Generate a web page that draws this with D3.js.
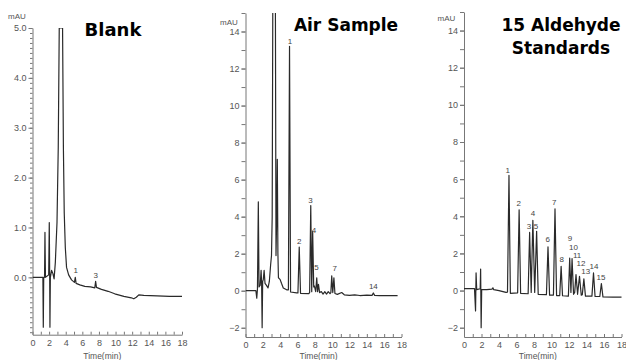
<!DOCTYPE html>
<html>
<head>
<meta charset="utf-8">
<script src="https://cdn.jsdelivr.net/npm/d3@7"></script>
<style>
  body { margin: 0; background: #fff; }
  svg { display: block; }
  .tick text { font-family: "Liberation Sans", Arial, sans-serif; font-size: 9px; fill: #555; }
  .axis path, .axis line { stroke: #777; }
</style>
</head>
<body>
<svg id="chart" width="626" height="360"></svg>
<script>
// ---- data (time in min, signal in mAU) ----
var blankTime = [0, 1.25, 1.3, 1.35, 1.45, 1.5, 1.56, 1.95, 2.02, 2.07, 2.1, 2.15, 2.3, 2.45, 2.6, 2.75, 2.95, 3.1, 3.22, 3.62, 3.72, 3.82, 3.95, 4.1, 4.35, 4.7, 5.05, 5.15, 5.25, 5.7, 6.3, 7.0, 7.5, 7.6, 7.7, 8.3, 9.1, 9.9, 11.0, 11.9, 12.2, 12.5, 12.8, 13.4, 15.0, 16.5, 18.0];
var blankSignal = [0, 0, -1.0, 0, 0, 0.9, 0, 0.05, 1.1, 0, -1.0, 0, 0.14, 0.08, -0.03, 0.3, 1.1, 2.6, 5.0, 5.0, 2.6, 1.3, 0.6, 0.2, 0.05, -0.05, -0.1, 0.0, -0.12, -0.15, -0.18, -0.19, -0.21, -0.08, -0.2, -0.24, -0.28, -0.33, -0.38, -0.41, -0.43, -0.4, -0.35, -0.36, -0.37, -0.38, -0.38];
var blankPeakNames = ["1", "3"];
var blankPeakTime = [5.2, 7.6];
var blankPeakLabelValue = [0.14, 0.04];

var airTime = [0, 1.2, 1.3, 1.38, 1.48, 1.56, 1.7, 1.8, 1.86, 1.92, 1.98, 2.05, 2.15, 2.25, 2.4, 2.6, 2.75, 2.9, 3.0, 3.08, 3.15, 3.45, 3.52, 3.6, 3.67, 3.74, 3.8, 3.9, 4.0, 4.15, 4.36, 4.75, 4.95, 5.08, 5.2, 5.9, 6.05, 6.2, 6.35, 7.3, 7.4, 7.53, 7.64, 7.75, 7.87, 7.95, 8.1, 8.22, 8.32, 8.42, 8.55, 8.75, 8.95, 9.15, 9.35, 9.55, 9.75, 9.85, 9.95, 10.07, 10.2, 10.32, 10.6, 11.1, 11.4, 12.0, 12.6, 13.2, 14.0, 14.6, 14.75, 14.9, 15.5, 16.5, 17.55];
var airSignal = [0, 0, -0.4, 0.1, 4.8, 0.2, 0.3, 1.1, 0.4, -2.0, 0.5, 0.6, 1.1, 0.4, 0.3, 0.15, 0.5, 1.4, 1.9, 4.0, 15.5, 15.5, 1.9, 4.0, 7.1, 2.0, 0.7, 0.65, 0.6, 0.4, 0.15, 0.05, 0.05, 13.2, -0.07, -0.12, -0.12, 2.36, -0.14, -0.16, -0.1, 4.6, -0.05, 3.2, 0.2, 0.25, -0.05, 0.7, -0.05, 0.35, -0.1, -0.05, -0.18, -0.05, -0.18, -0.05, -0.16, -0.1, 0.8, -0.1, 0.7, -0.15, -0.2, -0.1, -0.22, -0.25, -0.22, -0.26, -0.24, -0.25, -0.12, -0.25, -0.26, -0.27, -0.27];
var airPeakNames = ["1", "2", "3", "4", "5", "7", "14"];
var airPeakTime = [5.13, 6.2, 7.5, 7.9, 8.2, 10.3, 14.75];
var airPeakLabelValue = [13.5, 2.7, 4.88, 3.26, 1.27, 1.19, 0.23];

var stdTime = [0, 1.2, 1.32, 1.38, 1.45, 1.85, 1.9, 1.96, 2.02, 2.6, 3.2, 3.3, 3.4, 4.0, 4.8, 4.97, 5.14, 5.3, 6.13, 6.3, 6.47, 7.33, 7.5, 7.68, 7.87, 8.08, 8.3, 8.48, 9.42, 9.6, 9.78, 10.22, 10.4, 10.58, 10.94, 11.1, 11.26, 11.93, 12.08, 12.22, 12.35, 12.52, 12.65, 12.8, 12.98, 13.2, 13.4, 13.52, 13.7, 13.88, 14.62, 14.8, 14.98, 15.52, 15.7, 15.88, 17.0, 18.0];
var stdSignal = [0.1, 0.1, -1.1, 0.95, 0.05, 0.1, 1.16, -2.0, 0.05, 0.05, 0.08, 0.15, 0.05, 0.0, -0.1, -0.08, 6.2, -0.15, -0.12, 4.35, -0.15, -0.17, 3.13, -0.1, 3.78, -0.1, 3.19, -0.2, -0.22, 2.35, -0.25, -0.24, 4.4, -0.27, -0.27, 1.31, -0.28, -0.3, 1.75, -0.1, 1.72, -0.2, -0.1, 0.86, -0.2, 0.77, -0.25, -0.22, 0.63, -0.3, -0.3, 0.95, -0.32, -0.32, 0.38, -0.34, -0.35, -0.35];
var stdPeakNames = ["1", "2", "3", "4", "5", "6", "7", "8", "9", "10", "11", "12", "13", "14", "15"];
var stdPeakTime = [4.99, 6.25, 7.43, 7.89, 8.23, 9.57, 10.32, 11.17, 12.11, 12.52, 12.92, 13.36, 13.92, 14.86, 15.66];
var stdPeakLabelValue = [6.5, 4.73, 3.49, 4.14, 3.49, 2.74, 4.75, 1.67, 2.8, 2.36, 1.92, 1.47, 1.02, 1.31, 0.74];

var timeTicks = [0, 2, 4, 6, 8, 10, 12, 14, 16, 18];
var titles = [["Blank"], ["Air Sample"], ["15 Aldehyde", "Standards"]];

// ---- layout ----
var svg = d3.select("#chart");
var zip = (a, b) => a.map((d, i) => [d, b[i]]);

var panels = [
  { x0: 32.5, x1: 182, yTop: 28, yBot: 334.7, dom: [-1.15, 5], fmt: ".1f",
    minor: d3.range(-11, 51).map(i => i / 10), major: d3.range(0, 6),
    pts: zip(blankTime, blankSignal), names: blankPeakNames, lt: blankPeakTime, lv: blankPeakLabelValue,
    title: titles[0], tx: 113, ty: 36, tsize: 18, mx: 17, my: 19, timeY: 359 },
  { x0: 245.5, x1: 401.5, yTop: 13, yBot: 337, dom: [-2.5, 15], fmt: "d",
    minor: d3.range(-2, 16), major: d3.range(-2, 15, 2),
    pts: zip(airTime, airSignal), names: airPeakNames, lt: airPeakTime, lv: airPeakLabelValue,
    title: titles[1], tx: 346, ty: 31, tsize: 17, mx: 229, my: 25, timeY: 358.5 },
  { x0: 464, x1: 621.5, yTop: 12, yBot: 337, dom: [-2.5, 15], fmt: "d",
    minor: d3.range(-2, 16), major: d3.range(-2, 15, 2),
    pts: zip(stdTime, stdSignal), names: stdPeakNames, lt: stdPeakTime, lv: stdPeakLabelValue,
    title: titles[2], tx: 561, ty: 31, tsize: 17, mx: 446.5, my: 21, timeY: 358.5 }
];

panels.forEach(function (p, k) {
  var x = d3.scaleLinear().domain([0, 18]).range([p.x0, p.x1]);
  var y = d3.scaleLinear().domain(p.dom).range([p.yBot, p.yTop]);
  var g = svg.append("g");

  //clip so off-scale peaks stop at the top of the axis
  svg.append("clipPath").attr("id", "clip" + k)
    .append("rect").attr("x", p.x0).attr("y", p.yTop)
    .attr("width", p.x1 - p.x0 + 2).attr("height", p.yBot - p.yTop);

  //minor ticks on y, then labelled ones
  g.append("g").attr("class", "axis")
    .attr("transform", "translate(" + p.x0 + ",0)")
    .call(d3.axisLeft(y).tickValues(p.minor).tickSize(k == 0 ? 2.5 : 4).tickFormat("").tickSizeOuter(0));
  g.append("g").attr("class", "axis")
    .attr("transform", "translate(" + p.x0 + ",0)")
    .call(d3.axisLeft(y).tickValues(p.major).tickSize(4).tickPadding(2)
      .tickFormat(d3.format(p.fmt)).tickSizeOuter(0))
    .call(a => a.select(".domain").remove());

  //x axis, ticks pointing up
  g.append("g").attr("class", "axis")
    .attr("transform", "translate(0," + p.yBot + ")")
    .call(d3.axisBottom(x).tickValues(d3.range(0, 19)).tickSize(-3).tickFormat("").tickSizeOuter(0));
  g.append("g").attr("class", "axis")
    .attr("transform", "translate(0," + p.yBot + ")")
    .call(d3.axisBottom(x).tickValues(timeTicks).tickSize(0).tickPadding(5).tickSizeOuter(0))
    .call(a => a.select(".domain").remove());

  g.append("text").attr("x", (p.x0 + p.x1) / 2 - 5).attr("y", p.timeY)
    .attr("text-anchor", "middle")
    .style("font-family", "Liberation Sans, Arial, sans-serif").style("font-size", "8.5px").style("fill", "#555")
    .text("Time(min)");

  g.append("text").attr("x", p.mx).attr("y", p.my)
    .attr("text-anchor", "middle")
    .style("font-family", "Liberation Sans, Arial, sans-serif").style("font-size", "8px").style("fill", "#555")
    .text("mAU");

  //the trace
  var line = d3.line().x(d => x(d[0])).y(d => y(d[1]));
  g.append("path").datum(p.pts)
    .attr("clip-path", "url(#clip" + k + ")")
    .attr("fill", "none").attr("stroke", "#2a2a2a").attr("stroke-width", 1.2)
    .attr("stroke-linejoin", "round")
    .attr("d", line);

  //peak numbers
  g.selectAll(".peak").data(p.names).enter().append("text")
    .attr("x", (d, i) => x(p.lt[i]))
    .attr("y", (d, i) => y(p.lv[i]))
    .attr("dy", "0.35em").attr("text-anchor", "middle")
    .style("font-family", "Liberation Sans, Arial, sans-serif").style("font-size", "8px").style("fill", "#444")
    .text(d => d);

  //panel title
  g.append("text").attr("x", p.tx).attr("y", p.ty)
    .attr("text-anchor", "middle")
    .style("font-family", "DejaVu Sans, Verdana, sans-serif").style("font-weight", "bold")
    .style("font-size", p.tsize + "px").style("fill", "#000")
    .selectAll("tspan").data(p.title).enter().append("tspan")
    .attr("x", p.tx).attr("dy", (d, i) => i == 0 ? 0 : 22.6)
    .text(d => d);
});
</script>
</body>
</html>
